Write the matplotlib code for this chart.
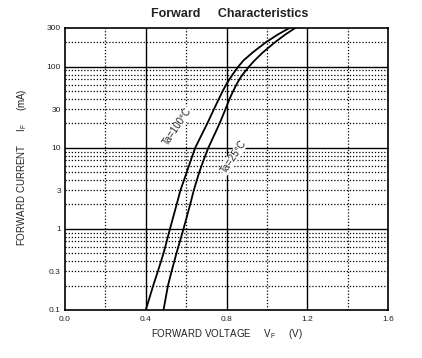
import matplotlib
matplotlib.use('Agg')
import matplotlib.pyplot as plt
from matplotlib.ticker import FixedLocator, NullFormatter

# 读图得到的数据 (mA / V)
current_ma = [0.1, 0.2, 0.3, 0.5, 1, 2, 3, 5, 7, 10, 20, 30, 40, 50, 60, 70,
              80, 100, 120, 150, 200, 250, 300]
vf_100c = [0.400, 0.437, 0.460, 0.488, 0.520, 0.553, 0.572, 0.603, 0.623, 0.645,
           0.705, 0.738, 0.762, 0.781, 0.798, 0.815, 0.830, 0.858, 0.885, 0.930,
           0.995, 1.055, 1.112]
vf_25c = [0.488, 0.510, 0.528, 0.552, 0.587, 0.620, 0.638, 0.665, 0.686, 0.710,
          0.766, 0.795, 0.815, 0.833, 0.849, 0.864, 0.880, 0.911, 0.940, 0.980,
          1.040, 1.092, 1.140]

x_ticks = [0.0, 0.4, 0.8, 1.2, 1.6]
x_tick_labels = ['0.0', '0.4', '0.8', '1.2', '1.6']
x_dotted = [0.2, 0.6, 1.0, 1.4]
y_ticks = [0.1, 0.3, 1, 3, 10, 30, 100, 300]
y_tick_labels = ['0.1', '0.3', '1', '3', '10', '30', '100', '300']
y_major = [1, 10, 100]
y_dotted = [m * d for d in (0.1, 1, 10) for m in range(2, 10)] + [200]

plt.rcParams['font.family'] = ['Liberation Sans', 'DejaVu Sans']

fig = plt.figure(figsize=(4.22, 3.58), dpi=100)
ax = fig.add_axes([65 / 422, 1 - 310 / 358, 323 / 422, 282 / 358])

ax.set_yscale('log')
ax.set_xlim(0, 1.6)
ax.set_ylim(0.1, 300)

for x in x_dotted:
    ax.axvline(x, color='black', lw=0.9, ls=(0, (1, 1.5)), zorder=1)
for x in x_ticks[1:-1]:
    ax.axvline(x, color='black', lw=1.0, zorder=1)
for y in y_dotted:
    ax.axhline(y, color='black', lw=0.9, ls=(0, (1, 1.5)), zorder=1)
for y in y_major:
    ax.axhline(y, color='black', lw=1.0, zorder=1)

ax.plot(vf_100c, current_ma, color='black', lw=1.3, zorder=3)
ax.plot(vf_25c, current_ma, color='black', lw=1.3, zorder=3)

ax.text(0.556, 18.3, 'Ta=100°C', rotation=56, fontsize=7, color='#222222',
        ha='center', va='center', zorder=4,
        bbox=dict(facecolor='white', edgecolor='none', pad=0.2))
ax.text(0.834, 7.7, 'Ta=25°C', rotation=56, fontsize=7, color='#222222',
        ha='center', va='center', zorder=4,
        bbox=dict(facecolor='white', edgecolor='none', pad=0.2))

ax.xaxis.set_major_locator(FixedLocator(x_ticks))
ax.set_xticklabels(x_tick_labels)
ax.yaxis.set_major_locator(FixedLocator(y_ticks))
ax.yaxis.set_minor_locator(FixedLocator([]))
ax.yaxis.set_minor_formatter(NullFormatter())
ax.set_yticklabels(y_tick_labels)
ax.tick_params(axis='both', length=0, labelsize=6, colors='#222222', pad=3)
ax.tick_params(axis='x', pad=4)

for sp in ax.spines.values():
    sp.set_linewidth(1.2)
    sp.set_color('black')
    sp.set_zorder(5)

fig.text(230 / 422, 1 - 14 / 358, 'Forward     Characteristics', ha='center',
         va='center', fontsize=9, fontweight='bold', color='#222222')
fig.text(227 / 422, 1 - 334 / 358,
         r'FORWARD VOLTAGE     V$_\mathregular{F}$     (V)',
         ha='center', va='center', fontsize=7, color='#222222')
fig.text(22 / 422, 1 - 167 / 358,
         r'FORWARD CURRENT     I$_\mathregular{F}$     (mA)',
         ha='center', va='center', rotation=90, fontsize=7, color='#222222')

fig.savefig('out.png', dpi=100)
